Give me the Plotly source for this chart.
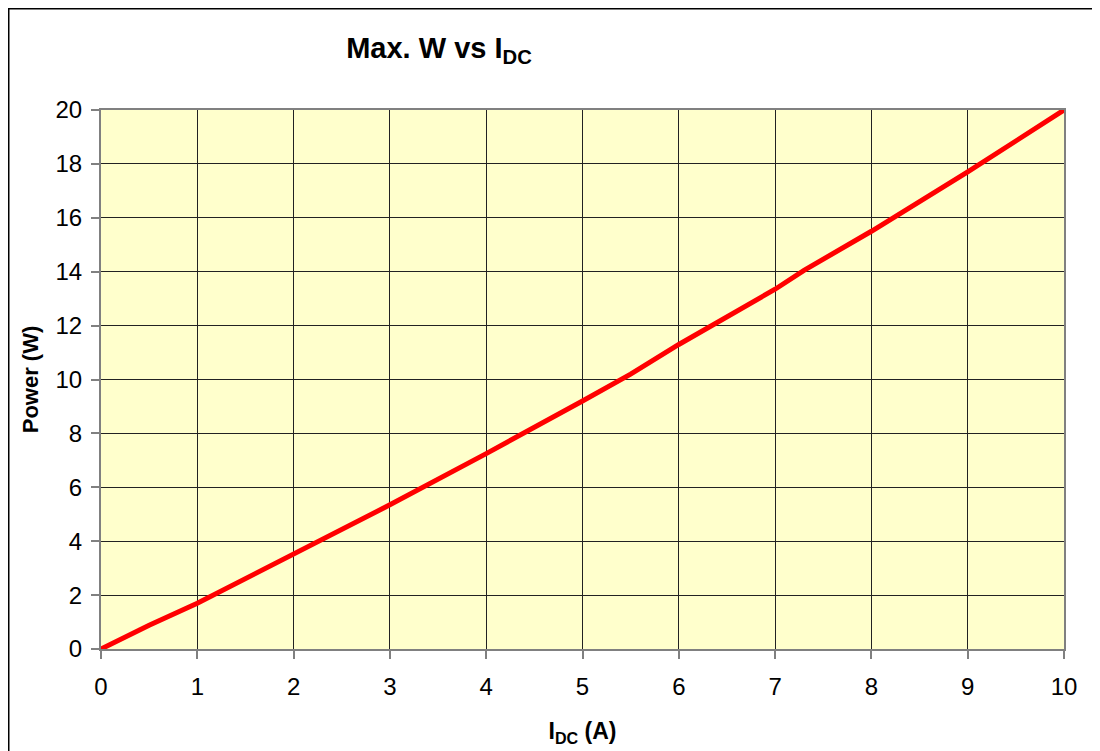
import plotly.graph_objects as go

current_a = [0, 0.5, 1, 2, 2.25, 3, 4, 4.5, 5, 5.5, 6, 7, 7.3, 8, 9, 10]
power_w = [0, 0.88, 1.7, 3.5, 4.0, 5.35, 7.25, 8.2, 9.2, 10.2, 11.3, 13.35, 14.05, 15.5, 17.7, 20]

x_ticks = list(range(0, 11))
y_ticks = list(range(0, 21, 2))

FONT = "Liberation Sans, Arial, sans-serif"

fig = go.Figure()
fig.add_trace(go.Scatter(
    x=current_a, y=power_w, mode="lines",
    line=dict(color="#FF0000", width=5),
    showlegend=False,
))

# page is shown with an 8px body margin, so figure coords = screen coords - 8
L, R, T, B = 93, 44, 102, 110
W, H = 1100, 751
pw, ph = W - L - R, H - T - B

fig.update_layout(
    width=W, height=H,
    margin=dict(l=L, r=R, t=T, b=B),
    paper_bgcolor="white",
    plot_bgcolor="#FFFFCC",
    font=dict(family=FONT, color="black", size=24),
    title=dict(
        text="<b>Max. W vs I<sub>DC</sub></b>",
        x=(431 - L) / pw, xref="paper", xanchor="center",
        y=1 - 40 / H, yref="container", yanchor="middle",
        font=dict(size=29, family=FONT, color="black"),
    ),
    xaxis=dict(
        range=[0, 10], tickvals=x_ticks, ticktext=[str(v) for v in x_ticks],
        showgrid=True, gridcolor="#222222", gridwidth=1,
        showline=True, linecolor="#808080", linewidth=2, mirror=True,
        ticks="outside", ticklen=8, tickcolor="#808080", tickwidth=2,
        ticklabelstandoff=7,
        zeroline=False,
        tickfont=dict(size=24),
        title=dict(text="<b>I<sub>DC</sub> (A)</b>", font=dict(size=23), standoff=24),
    ),
    yaxis=dict(
        range=[0, 20], tickvals=y_ticks, ticktext=[str(v) for v in y_ticks],
        showgrid=True, gridcolor="#222222", gridwidth=1,
        showline=True, linecolor="#808080", linewidth=2, mirror=True,
        ticks="outside", ticklen=8, tickcolor="#808080", tickwidth=2,
        ticklabelstandoff=4,
        zeroline=False,
        tickfont=dict(size=24),
        title=dict(text="<b>Power (W)</b>", font=dict(size=22), standoff=11),
    ),
)

# outer chart-area frame (extends past the picture on the right and bottom)
fig.add_shape(
    type="rect", xref="paper", yref="paper",
    x0=(0.75 - L) / pw, x1=(1160 - L) / pw,
    y0=(H - B - 800) / ph, y1=(H - B - 0.75) / ph,
    line=dict(color="black", width=1.5), fillcolor="rgba(0,0,0,0)",
    layer="below",
)

fig.write_html("out.html")
